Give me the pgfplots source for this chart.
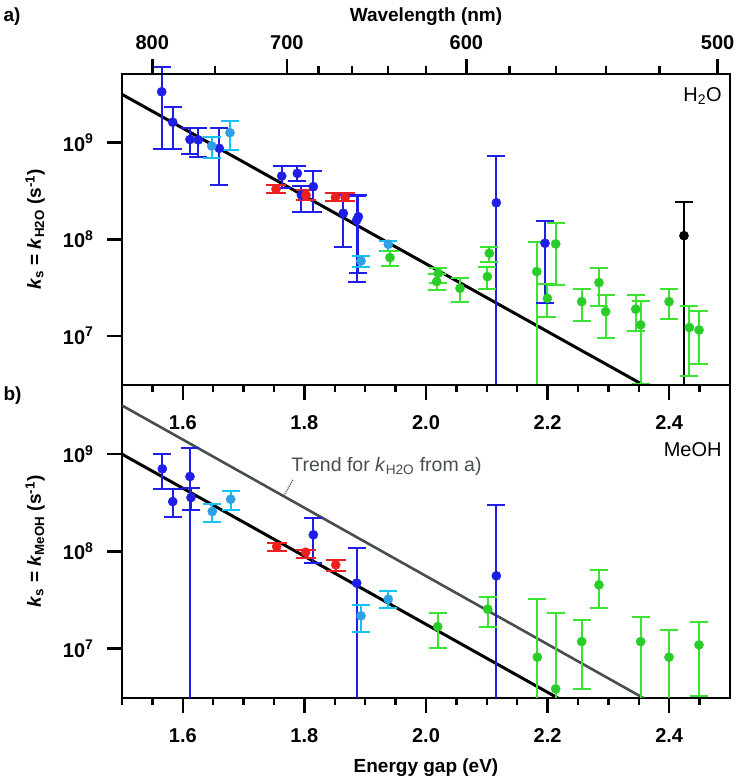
\documentclass[border=0pt]{standalone}
\usepackage{pgfplots}
\pgfplotsset{compat=1.18}
\usepackage{pgfplotstable}
\usepackage{fontspec}
\setmainfont{Liberation Sans}
\definecolor{cblue}{RGB}{30,30,232}
\definecolor{clight}{RGB}{45,160,230}
\definecolor{clightE}{RGB}{20,195,250}
\definecolor{cred}{RGB}{236,32,32}
\definecolor{cgreen}{RGB}{40,205,40}
\definecolor{cgreenE}{RGB}{60,228,50}
\definecolor{cgray}{RGB}{72,78,78}

% x = energy gap (eV), y = k, hi/lo = error bar ends (nan: bar runs out of the frame, no cap)
% panel a (H2O)
\pgfplotstableread{
x y hi lo
1.5834 1.63e9 2.36e9 8.55e8
1.6118 1.08e9 1.43e9 7.59e8
1.6255 1.07e9 1.43e9 7.06e8
1.6600 8.75e8 1.41e9 3.65e8
1.7627 4.52e8 5.74e8 3.37e8
1.7884 4.82e8 5.74e8 4.05e8
1.7950 2.88e8 3.56e8 1.93e8
1.8147 3.51e8 5.09e8 1.93e8
1.8640 1.86e8 2.88e8 8.40e7
1.8887 1.71e8 2.90e8 4.50e7
1.8860 1.58e8 2.80e8 3.65e7
2.1157 2.39e8 7.28e8 nan
2.1957 9.10e7 1.56e8 2.18e7
}\aBlue
\pgfplotstableread{
x y hi lo
1.5653 3.37e9 6.03e9 8.55e8
}\aBlueTop
\pgfplotstableread{
x y hi lo
1.6475 9.25e8 1.15e9 6.90e8
1.6776 1.27e9 1.68e9 8.40e8
1.8931 5.97e7 6.73e7 5.14e7
1.9380 8.89e7 9.62e7 7.64e7
}\aLight
\pgfplotstableread{
x y hi lo
1.7533 3.30e8 3.65e8 2.99e8
1.8026 2.88e8 3.24e8 2.55e8
1.8510 2.72e8 3.00e8 2.50e8
1.8670 2.72e8 3.00e8 2.50e8
}\aRed
\pgfplotstableread{
x y hi lo
1.9408 6.46e7 7.64e7 5.34e7
2.0202 4.46e7 5.09e7 3.56e7
2.0176 3.65e7 4.40e7 2.99e7
2.0559 3.11e7 3.95e7 2.26e7
2.1041 7.18e7 8.40e7 5.80e7
2.1009 4.11e7 5.14e7 3.04e7
2.1821 4.63e7 9.46e7 nan
2.2133 8.96e7 1.47e8 3.37e7
2.1996 2.45e7 3.45e7 1.58e7
2.2561 2.26e7 3.06e7 1.41e7
2.2845 3.56e7 5.01e7 2.04e7
2.2955 1.78e7 2.65e7 9.60e6
2.3450 1.89e7 2.65e7 1.11e7
2.3531 1.30e7 2.32e7 3.20e6
2.3997 2.26e7 3.04e7 1.49e7
2.4332 1.22e7 2.04e7 3.86e6
2.4490 1.15e7 1.82e7 5.13e6
}\aGreen
\pgfplotstableread{
x y hi lo
2.4243 1.09e8 2.45e8 nan
}\aBlack

% panel b (MeOH)
\pgfplotstableread{
x y hi lo
1.5663 7.06e8 1.00e9 4.36e8
1.5834 3.25e8 4.36e8 2.28e8
1.6118 5.89e8 1.17e9 nan
1.6135 3.58e8 4.47e8 2.67e8
1.8147 1.48e8 2.20e8 7.67e7
1.8860 4.71e7 1.08e8 nan
2.1157 5.60e7 3.00e8 nan
}\bBlue
\pgfplotstableread{
x y hi lo
1.6485 2.57e8 3.06e8 2.00e8
1.6788 3.44e8 4.22e8 2.67e8
1.8931 2.17e7 2.82e7 1.48e7
1.9380 3.22e7 3.93e7 2.61e7
}\bLight
\pgfplotstableread{
x y hi lo
1.7544 1.12e8 1.23e8 1.00e8
1.8020 9.80e7 1.04e8 8.50e7
1.8515 7.26e7 8.18e7 6.30e7
}\bRed
\pgfplotstableread{
x y hi lo
2.0192 1.68e7 2.34e7 1.02e7
2.1015 2.54e7 3.43e7 1.66e7
2.1831 8.16e6 3.22e7 nan
2.2133 3.85e6 2.31e7 nan
2.2561 1.18e7 1.97e7 3.85e6
2.2845 4.52e7 6.46e7 2.61e7
2.3531 1.18e7 2.10e7 nan
2.3997 8.16e6 1.56e7 nan
2.4490 1.09e7 1.87e7 3.26e6
}\bGreen

\newcommand{\labfont}{\fontsize{19}{23}\selectfont\bfseries}
\newcommand{\tickfont}{\fontsize{20}{24}\selectfont\bfseries}

\begin{document}
\begin{tikzpicture}
\useasboundingbox (0pt,0pt) rectangle (739pt,780pt);

% ---------- panel a ----------
\begin{axis}[at={(122pt,395pt)}, anchor=south west, width=608pt, height=311pt, scale only axis,
  xmin=1.5, xmax=2.5, ymode=log, ymin=3.1e6, ymax=5.15e9, yminorticks=false,
  unbounded coords=jump,
  ytick={1e7,1e8,1e9},
  yticklabels={10\textsuperscript{7},10\textsuperscript{8},10\textsuperscript{9}},
  xtick={1.6,1.8,2.0,2.2,2.4}, xticklabels={1.6,1.8,2.0,2.2,2.4},
  minor xtick={1.5,1.55,1.65,1.7,1.75,1.85,1.9,1.95,2.05,2.1,2.15,2.25,2.3,2.35,2.45},
  tick align=outside, xtick pos=left, ytick pos=left,
  major tick length=15pt, minor tick length=7pt,
  axis line style={line width=2.5pt},
  major tick style={line width=2.5pt, black},
  minor tick style={line width=2.5pt, black},
  tick label style={font=\tickfont},
  xticklabel style={yshift=-12pt},
  yticklabel style={xshift=-10pt},
  ylabel style={font=\labfont, at={(axis description cs:-0.143,0.5)}, anchor=center},
  ylabel={\textit{k}\textsubscript{s} = \textit{k}\textsubscript{H2O} (s\textsuperscript{-1})}]
\addplot[black, line width=3pt] coordinates {(1.5,3.17e9) (2.5,9.8e5)};
% error bar stems
\addplot[cblue, line width=2pt] coordinates {
(1.5834,8.55e8)(1.5834,2.36e9)(1.5834,nan) (1.6118,7.59e8)(1.6118,1.43e9)(1.6118,nan)
(1.6255,7.06e8)(1.6255,1.43e9)(1.6255,nan) (1.6600,3.65e8)(1.6600,1.41e9)(1.6600,nan)
(1.7627,3.37e8)(1.7627,5.74e8)(1.7627,nan) (1.7884,4.05e8)(1.7884,5.74e8)(1.7884,nan)
(1.7950,1.93e8)(1.7950,3.56e8)(1.7950,nan) (1.8147,1.93e8)(1.8147,5.09e8)(1.8147,nan)
(1.8640,8.40e7)(1.8640,2.88e8)(1.8640,nan) (1.8887,4.50e7)(1.8887,2.90e8)(1.8887,nan)
(1.8860,3.65e7)(1.8860,2.80e8)(1.8860,nan) (2.1157,1e6)(2.1157,7.28e8)(2.1157,nan)
(2.1957,2.18e7)(2.1957,1.56e8)};
\addplot[clightE, line width=2pt] coordinates {
(1.6475,6.90e8)(1.6475,1.15e9)(1.6475,nan) (1.6776,8.40e8)(1.6776,1.68e9)(1.6776,nan)
(1.8931,5.14e7)(1.8931,6.73e7)(1.8931,nan) (1.9380,7.64e7)(1.9380,9.62e7)};
\addplot[cred, line width=2pt] coordinates {
(1.7533,2.99e8)(1.7533,3.65e8)(1.7533,nan) (1.8026,2.55e8)(1.8026,3.24e8)(1.8026,nan)
(1.8510,2.50e8)(1.8510,3.00e8)(1.8510,nan) (1.8670,2.50e8)(1.8670,3.00e8)};
\addplot[cgreenE, line width=2pt] coordinates {
(1.9408,5.34e7)(1.9408,7.64e7)(1.9408,nan) (2.0202,3.56e7)(2.0202,5.09e7)(2.0202,nan)
(2.0176,2.99e7)(2.0176,4.40e7)(2.0176,nan) (2.0559,2.26e7)(2.0559,3.95e7)(2.0559,nan)
(2.1041,5.80e7)(2.1041,8.40e7)(2.1041,nan) (2.1009,3.04e7)(2.1009,5.14e7)(2.1009,nan)
(2.1821,1e6)(2.1821,9.46e7)(2.1821,nan) (2.2133,3.37e7)(2.2133,1.47e8)(2.2133,nan)
(2.1996,1.58e7)(2.1996,3.45e7)(2.1996,nan) (2.2561,1.41e7)(2.2561,3.06e7)(2.2561,nan)
(2.2845,2.04e7)(2.2845,5.01e7)(2.2845,nan) (2.2955,9.60e6)(2.2955,2.65e7)(2.2955,nan)
(2.3450,1.11e7)(2.3450,2.65e7)(2.3450,nan) (2.3531,3.20e6)(2.3531,2.32e7)(2.3531,nan)
(2.3997,1.49e7)(2.3997,3.04e7)(2.3997,nan) (2.4332,3.86e6)(2.4332,2.04e7)(2.4332,nan)
(2.4490,5.13e6)(2.4490,1.82e7)};
\addplot[black, line width=2pt] coordinates {(2.4243,1e6)(2.4243,2.45e8)};
% caps
\addplot[only marks, mark=-, mark size=9pt, color=cblue, mark options={line width=2pt}] table[x=x, y=hi]{\aBlue};
\addplot[only marks, mark=-, mark size=9pt, color=cblue, mark options={line width=2pt}] table[x=x, y=lo]{\aBlue};
\addplot[only marks, mark=-, mark size=9pt, color=clightE, mark options={line width=2pt}] table[x=x, y=hi]{\aLight};
\addplot[only marks, mark=-, mark size=9pt, color=clightE, mark options={line width=2pt}] table[x=x, y=lo]{\aLight};
\addplot[only marks, mark=-, mark size=10pt, color=cred, mark options={line width=2pt}] table[x=x, y=hi]{\aRed};
\addplot[only marks, mark=-, mark size=10pt, color=cred, mark options={line width=2pt}] table[x=x, y=lo]{\aRed};
\addplot[only marks, mark=-, mark size=9pt, color=cgreenE, mark options={line width=2pt}] table[x=x, y=hi]{\aGreen};
\addplot[only marks, mark=-, mark size=9pt, color=cgreenE, mark options={line width=2pt}] table[x=x, y=lo]{\aGreen};
\addplot[only marks, mark=-, mark size=9pt, color=black, mark options={line width=2pt}] table[x=x, y=hi]{\aBlack};
% points
\addplot[only marks, mark=*, mark size=4.6pt, color=cblue] table[x=x, y=y]{\aBlue};
\addplot[only marks, mark=*, mark size=4.6pt, color=clight] table[x=x, y=y]{\aLight};
\addplot[only marks, mark=*, mark size=4.6pt, color=cred] table[x=x, y=y]{\aRed};
\addplot[only marks, mark=*, mark size=4.6pt, color=cgreen] table[x=x, y=y]{\aGreen};
\addplot[only marks, mark=*, mark size=4.6pt, color=black] table[x=x, y=y]{\aBlack};
\node[anchor=east, font=\fontsize{20}{24}\selectfont] at (axis description cs:0.992,0.93) {H\textsubscript{2}O};
\end{axis}

% overlay, unclipped, for the point whose bar passes the top frame
\begin{axis}[at={(122pt,395pt)}, anchor=south west, width=608pt, height=311pt, scale only axis,
  xmin=1.5, xmax=2.5, ymode=log, ymin=3.1e6, ymax=5.15e9, hide axis, clip=false]
\addplot[cblue, line width=2pt] coordinates {(1.5653,8.55e8)(1.5653,6.03e9)};
\addplot[only marks, mark=-, mark size=9pt, color=cblue, mark options={line width=2pt}] table[x=x, y=hi]{\aBlueTop};
\addplot[only marks, mark=-, mark size=9pt, color=cblue, mark options={line width=2pt}] table[x=x, y=lo]{\aBlueTop};
\addplot[only marks, mark=*, mark size=4.6pt, color=cblue] table[x=x, y=y]{\aBlueTop};
\end{axis}

% wavelength axis
\begin{axis}[at={(122pt,395pt)}, anchor=south west, width=608pt, height=311pt, scale only axis,
  xmin=1.5, xmax=2.5, ymin=0, ymax=1, axis y line=none, axis x line*=top,
  tick align=outside,
  xtick={1.5498,1.7712,2.0664,2.4797}, xticklabels={800,700,600,500},
  minor xtick={1.6531,1.8233,1.8785,1.9373,1.9998,2.1377,2.2140,2.2960,2.3843},
  major tick length=15pt, minor tick length=8pt,
  axis line style={line width=2.5pt},
  major tick style={line width=2.5pt, black},
  minor tick style={line width=2.5pt, black},
  tick label style={font=\tickfont},
  xticklabel style={yshift=6pt},
  xlabel={Wavelength (nm)},
  xlabel style={font=\labfont, at={(axis description cs:0.5,1)}, anchor=center, yshift=57pt}]
\end{axis}

% ---------- panel b ----------
\begin{axis}[at={(122pt,82pt)}, anchor=south west, width=608pt, height=313pt, scale only axis,
  xmin=1.5, xmax=2.5, ymode=log, ymin=3.1e6, ymax=5.15e9, yminorticks=false,
  unbounded coords=jump,
  ytick={1e7,1e8,1e9},
  yticklabels={10\textsuperscript{7},10\textsuperscript{8},10\textsuperscript{9}},
  xtick={1.6,1.8,2.0,2.2,2.4}, xticklabels={1.6,1.8,2.0,2.2,2.4},
  minor xtick={1.5,1.55,1.65,1.7,1.75,1.85,1.9,1.95,2.05,2.1,2.15,2.25,2.3,2.35,2.45},
  tick align=outside, xtick pos=left, ytick pos=left,
  major tick length=15pt, minor tick length=7pt,
  axis line style={line width=2.5pt},
  major tick style={line width=2.5pt, black},
  minor tick style={line width=2.5pt, black},
  tick label style={font=\tickfont},
  xticklabel style={yshift=-12pt},
  yticklabel style={xshift=-10pt},
  ylabel style={font=\labfont, at={(axis description cs:-0.143,0.5)}, anchor=center},
  xlabel style={font=\labfont, yshift=-9pt},
  ylabel={\textit{k}\textsubscript{s} = \textit{k}\textsubscript{MeOH} (s\textsuperscript{-1})},
  xlabel={Energy gap (eV)}]
\addplot[cgray, line width=2.6pt] coordinates {(1.5,3.17e9) (2.5,9.8e5)};
\addplot[black, line width=3pt] coordinates {(1.5,1.0e9) (2.5,3.16e5)};
% error bar stems
\addplot[cblue, line width=2pt] coordinates {
(1.5663,4.36e8)(1.5663,1.00e9)(1.5663,nan) (1.5834,2.28e8)(1.5834,4.36e8)(1.5834,nan)
(1.6118,1e6)(1.6118,1.17e9)(1.6118,nan) (1.6135,2.67e8)(1.6135,4.47e8)(1.6135,nan)
(1.8147,7.67e7)(1.8147,2.20e8)(1.8147,nan) (1.8860,1e6)(1.8860,1.08e8)(1.8860,nan)
(2.1157,1e6)(2.1157,3.00e8)};
\addplot[clightE, line width=2pt] coordinates {
(1.6485,2.00e8)(1.6485,3.06e8)(1.6485,nan) (1.6788,2.67e8)(1.6788,4.22e8)(1.6788,nan)
(1.8931,1.48e7)(1.8931,2.82e7)(1.8931,nan) (1.9380,2.61e7)(1.9380,3.93e7)};
\addplot[cred, line width=2pt] coordinates {
(1.7544,1.00e8)(1.7544,1.23e8)(1.7544,nan) (1.8020,8.50e7)(1.8020,1.04e8)(1.8020,nan)
(1.8515,6.30e7)(1.8515,8.18e7)};
\addplot[cgreenE, line width=2pt] coordinates {
(2.0192,1.02e7)(2.0192,2.34e7)(2.0192,nan) (2.1015,1.66e7)(2.1015,3.43e7)(2.1015,nan)
(2.1831,1e6)(2.1831,3.22e7)(2.1831,nan) (2.2133,1e6)(2.2133,2.31e7)(2.2133,nan)
(2.2561,3.85e6)(2.2561,1.97e7)(2.2561,nan) (2.2845,2.61e7)(2.2845,6.46e7)(2.2845,nan)
(2.3531,1e6)(2.3531,2.10e7)(2.3531,nan) (2.3997,1e6)(2.3997,1.56e7)(2.3997,nan)
(2.4490,3.26e6)(2.4490,1.87e7)};
% caps
\addplot[only marks, mark=-, mark size=9pt, color=cblue, mark options={line width=2pt}] table[x=x, y=hi]{\bBlue};
\addplot[only marks, mark=-, mark size=9pt, color=cblue, mark options={line width=2pt}] table[x=x, y=lo]{\bBlue};
\addplot[only marks, mark=-, mark size=9pt, color=clightE, mark options={line width=2pt}] table[x=x, y=hi]{\bLight};
\addplot[only marks, mark=-, mark size=9pt, color=clightE, mark options={line width=2pt}] table[x=x, y=lo]{\bLight};
\addplot[only marks, mark=-, mark size=10pt, color=cred, mark options={line width=2pt}] table[x=x, y=hi]{\bRed};
\addplot[only marks, mark=-, mark size=10pt, color=cred, mark options={line width=2pt}] table[x=x, y=lo]{\bRed};
\addplot[only marks, mark=-, mark size=9pt, color=cgreenE, mark options={line width=2pt}] table[x=x, y=hi]{\bGreen};
\addplot[only marks, mark=-, mark size=9pt, color=cgreenE, mark options={line width=2pt}] table[x=x, y=lo]{\bGreen};
% points
\addplot[only marks, mark=*, mark size=4.6pt, color=cblue] table[x=x, y=y]{\bBlue};
\addplot[only marks, mark=*, mark size=4.6pt, color=clight] table[x=x, y=y]{\bLight};
\addplot[only marks, mark=*, mark size=4.6pt, color=cred] table[x=x, y=y]{\bRed};
\addplot[only marks, mark=*, mark size=4.6pt, color=cgreen] table[x=x, y=y]{\bGreen};
\node[anchor=east, font=\fontsize{20}{24}\selectfont] at (axis description cs:0.992,0.792) {MeOH};
\node[anchor=center, text=cgray, font=\fontsize{19.5}{23}\selectfont] at (axis description cs:0.435,0.739)
  {Trend for \textit{k}\textsubscript{H2O} from a)};
\draw[cgray, line width=1.2pt, densely dotted] (axis description cs:0.281,0.697) -- (axis description cs:0.265,0.642);
\end{axis}

\node[anchor=west, font=\labfont] at (0pt,763pt) {a)};
\node[anchor=west, font=\labfont] at (0pt,384pt) {b)};
\end{tikzpicture}
\end{document}
